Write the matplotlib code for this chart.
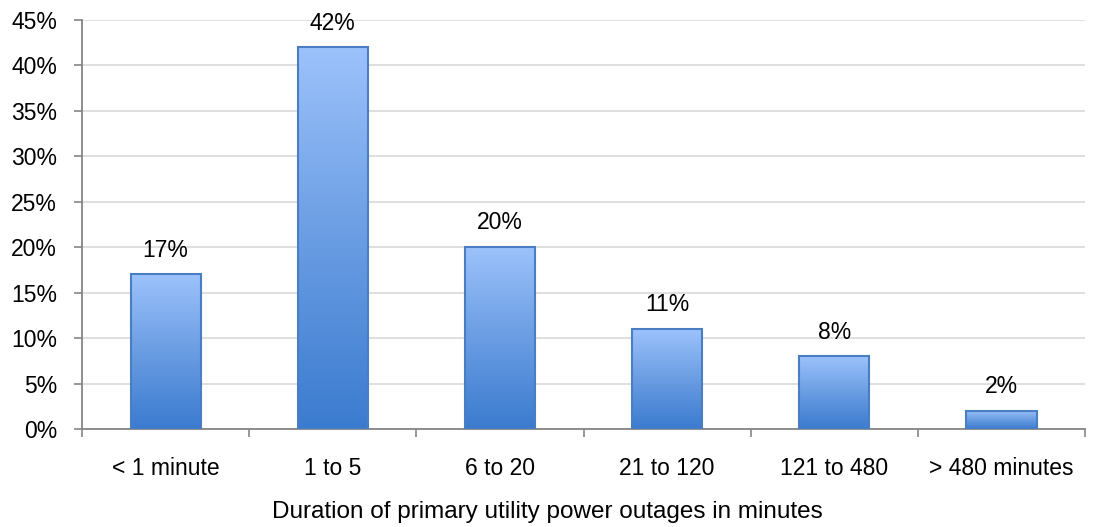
import numpy as np
import matplotlib.pyplot as plt
from matplotlib.colors import LinearSegmentedColormap
from matplotlib.ticker import FuncFormatter

plt.rcParams['font.family'] = ['Liberation Sans', 'DejaVu Sans']

categories = ['< 1 minute', '1 to 5', '6 to 20', '21 to 120', '121 to 480', '> 480 minutes']
values = [17, 42, 20, 11, 8, 2]
xlabel = 'Duration of primary utility power outages in minutes'

fs = 16.5

fig = plt.figure(figsize=(10.95, 5.27), dpi=100)
ax = fig.add_axes([0.0749, 0.186, 0.9161, 0.776])

grad = LinearSegmentedColormap.from_list('bar', ['#3b7bcf', '#6a9de3', '#9cc2fb'])
BarWidth = 0.42
x = np.arange(len(categories))

for i, v in enumerate(values):
    x0, x1 = x[i] - BarWidth / 2, x[i] + BarWidth / 2
    g = np.linspace(0, 1, 256).reshape(-1, 1)
    ax.imshow(g, cmap=grad, origin='lower', aspect='auto',
              extent=(x0, x1, 0, v), zorder=2, interpolation='bicubic')
    ax.bar(x[i], v, width=BarWidth, facecolor='none', edgecolor='#4a7ec2', linewidth=1.5, zorder=3)
    ax.text(x[i], v + 1.4, '%d%%' % v, ha='center', va='bottom', fontsize=fs, color='black')

ax.set_xlim(-0.5, len(categories) - 0.5)
ax.set_ylim(0, 45)
ax.set_yticks(np.arange(0, 46, 5))
ax.yaxis.set_major_formatter(FuncFormatter(lambda v, p: '%d%%' % v))
ax.yaxis.grid(True, color='#d9d9d9', linewidth=1.2, zorder=0)
ax.set_axisbelow(True)

ax.set_xticks(np.arange(-0.5, len(categories), 1.0))
ax.set_xticklabels([])
ax.set_xticks(x, minor=True)
ax.set_xticklabels(categories, minor=True)
ax.tick_params(axis='x', which='minor', length=0, pad=20, labelsize=fs)
ax.tick_params(axis='x', which='major', length=6, color='#868686', width=1.2)
ax.tick_params(axis='y', length=6, color='#868686', width=1.2, labelsize=fs, pad=12)

for s in ['top', 'right']:
    ax.spines[s].set_visible(False)
for s in ['left', 'bottom']:
    ax.spines[s].set_color('#868686')
    ax.spines[s].set_linewidth(1.3)

fig.text(0.5, 0.029, xlabel, ha='center', va='center', fontsize=17.5)

plt.savefig('out.png', dpi=100)
